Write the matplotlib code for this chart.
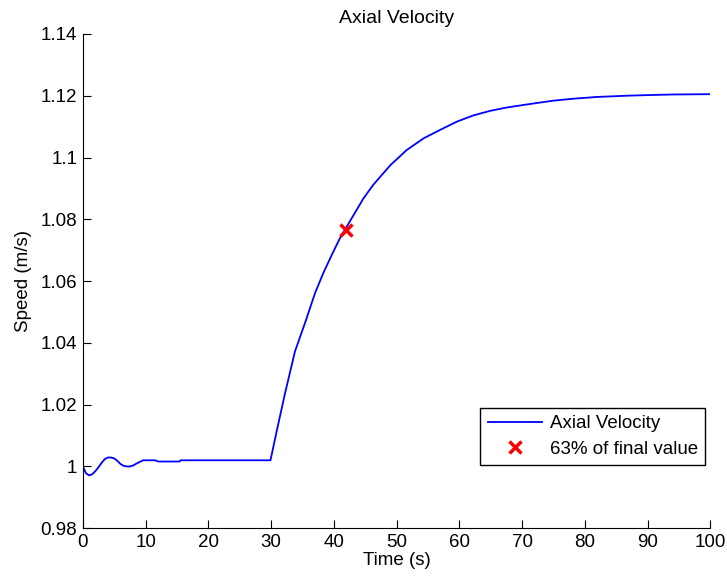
import numpy as np
import matplotlib.pyplot as plt

plt.rcParams['font.family'] = ['Liberation Sans', 'DejaVu Sans']

# values
time = [0, 0.5, 1.0, 1.5, 2.0, 2.5, 3.0, 3.5, 4.0, 4.5, 5.0, 5.5, 6.0, 6.5, 7.0,
        7.5, 8.0, 8.5, 9.0, 9.6, 10.5, 11.5, 12.0, 15.4, 15.6, 29.9,
        30.9, 32.2, 33.8, 35.5, 37.0, 38.3, 39.7, 41.0, 43.1, 44.7, 46.3,
        49.0, 51.6, 54.3, 56.9, 59.6, 62.2, 64.9, 67.6, 70.2, 72.9, 75.0,
        78.0, 81.9, 86.7, 90.0, 94.1, 100.0]
speed = [1.0000, 0.9978, 0.9971, 0.9975, 0.9985, 0.9998, 1.0012, 1.0024,
         1.0029, 1.0029, 1.0026, 1.0018, 1.0008, 1.0002, 1.0000, 1.0000,
         1.0003, 1.0009, 1.0014, 1.0020, 1.0020, 1.0020, 1.0016, 1.0016,
         1.0020, 1.0020, 1.0115, 1.0235, 1.0372, 1.0470, 1.0561, 1.0625,
         1.0686, 1.0740, 1.0812, 1.0867, 1.0912, 1.0975, 1.1024, 1.1062,
         1.1089, 1.1116, 1.1136, 1.1151, 1.1162, 1.1170, 1.1178, 1.1184,
         1.1190, 1.1196, 1.1200, 1.1202, 1.1204, 1.1205]
t63 = 41.9
v63 = 1.0764

yticks = [0.98, 1.0, 1.02, 1.04, 1.06, 1.08, 1.1, 1.12, 1.14]
ylabels = ['0.98', '1', '1.02', '1.04', '1.06', '1.08', '1.1', '1.12', '1.14']

fig = plt.figure(figsize=(7.27, 5.85), dpi=100)
ax = fig.add_axes([0.114, 0.097, 0.863, 0.845])

ax.plot(time, speed, color='#0000ff', lw=1.3, label='Axial Velocity')
ax.plot(t63, v63, 'x', color='#ff0000', ms=9, mew=2.5, ls='none',
        label='63% of final value')

ax.set_xlim(0, 100)
ax.set_ylim(0.98, 1.14)
ax.set_xticks(range(0, 101, 10))
ax.set_yticks(yticks)
ax.set_yticklabels(ylabels)
ax.tick_params(direction='in', length=5.5, labelsize=13.5, width=0.8, pad=4)
ax.spines['top'].set_visible(False)
ax.spines['right'].set_visible(False)

ax.set_title('Axial Velocity', fontsize=14, pad=8)
ax.set_xlabel('Time (s)', fontsize=13.5, labelpad=1)
ax.set_ylabel('Speed (m/s)', fontsize=13.5, labelpad=6)

leg = ax.legend(loc='lower right', bbox_to_anchor=(0.992, 0.1275), fontsize=13.5,
                fancybox=False, edgecolor='black', framealpha=1,
                handlelength=2.9, handletextpad=0.4, borderpad=0.4,
                labelspacing=0.45, borderaxespad=0)
leg.get_frame().set_linewidth(1.0)

plt.savefig('out.png', dpi=100)
